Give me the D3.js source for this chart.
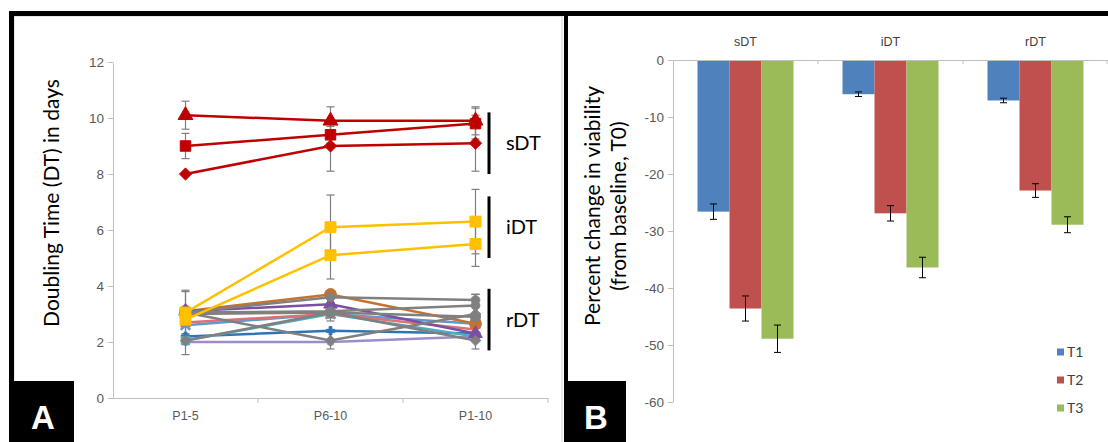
<!DOCTYPE html>
<html>
<head>
<meta charset="utf-8">
<script src="https://cdn.jsdelivr.net/npm/d3@7"></script>
<style>
  body { margin: 0; background: #fff; }
  svg { display: block; font-family: Lato, 'Open Sans', sans-serif; }
</style>
</head>
<body>
<script>
// ---- panel A: doubling time per passage window ----
const passages = ['P1-5', 'P6-10', 'P1-10'];
const dtTicks = [0, 2, 4, 6, 8, 10, 12];

// slow doubling (sDT)
const sdtTri = [10.1, 9.9, 9.9];
const sdtTriErr = [0.5, 0.5, 0.5];
const sdtSq = [9.0, 9.4, 9.8];
const sdtSqErr = [0.45, 0.3, 0.55];
const sdtDia = [8.0, 9.0, 9.1];
const sdtDiaErr = [0.05, 0.9, 1.0];

// intermediate doubling (iDT)
const idtHigh = [3.05, 6.1, 6.3];
const idtHighErr = [0.1, 1.15, 1.15];
const idtLow = [2.8, 5.1, 5.5];
const idtLowErr = [0.1, 0.85, 0.8];

// rapid doubling (rDT)
const rdtOrange = [3.1, 3.7, 2.65];
const rdtPurple = [3.1, 3.35, 2.3];
const rdtBlue = [2.2, 2.4, 2.3];
const rdtLavender = [2.0, 2.0, 2.2];
const rdtTeal = [2.05, 3.0, 2.2];
const rdtPink = [2.7, 3.0, 2.45];
const rdtSky = [2.6, 3.0, 2.65];
const rdtGray1 = [3.05, 3.6, 3.5];
const rdtGray1Err = [0.8, 0.2, 0.2];
const rdtGray2 = [3.05, 3.1, 3.3];
const rdtGray2Err = [0.75, 0.2, 0.4];
const rdtGray3 = [3.05, 2.05, 3.0];
const rdtGray3Err = [0.1, 0.3, 0.7];
const rdtGray4 = [2.05, 3.05, 2.05];
const rdtGray4Err = [0.5, 0.3, 0.3];
const rdtGray5 = [3.0, 3.05, 2.9];
const rdtGray5Err = [0.1, 0.1, 0.1];

// ---- panel B: viability change ----
const groups = ['sDT', 'iDT', 'rDT'];
const timepoints = ['T1', 'T2', 'T3'];
const viabT1 = [-26.6, -6.0, -7.1];
const viabT1Err = [1.35, 0.4, 0.4];
const viabT2 = [-43.6, -26.9, -22.9];
const viabT2Err = [2.2, 1.35, 1.2];
const viabT3 = [-48.9, -36.4, -28.9];
const viabT3Err = [2.4, 1.8, 1.4];
const viabTicks = [0, -10, -20, -30, -40, -50, -60];

const W = 1108, H = 442;
const axisGray = '#bfbfbf';
const tickText = '#595959';

const svg = d3.select('body').append('svg').attr('width', W).attr('height', H);
svg.append('rect').attr('width', W).attr('height', H).attr('fill', '#fff');

function styleAxis(g, size) {
  g.select('.domain').attr('stroke', axisGray);
  g.selectAll('.tick line').attr('stroke', axisGray);
  g.selectAll('.tick text')
    .attr('fill', tickText)
    .style('font-size', size + 'px');
}

function drawLines() {
  const x = d3.scaleBand().domain(passages).range([113, 548]);
  const y = d3.scaleLinear().domain([0, 12]).range([398, 62]);
  const cx = (i) => x(passages[i]) + x.bandwidth() / 2;

  svg.append('rect')
    .attr('x', 14).attr('y', 16).attr('width', 548).attr('height', 430)
    .attr('fill', 'none').attr('stroke', '#d0d0d0');

  const yAxis = svg.append('g')
    .attr('transform', 'translate(113,0)')
    .call(d3.axisLeft(y).tickValues(dtTicks).tickSize(5).tickPadding(4).tickSizeOuter(0));
  styleAxis(yAxis, 13.5);

  const xAxis = svg.append('g')
    .attr('transform', 'translate(0,398)')
    .call(d3.axisBottom(x).tickSize(0).tickPadding(13));
  styleAxis(xAxis, 12.5);

  // Excel style ticks between categories
  const edges = passages.slice(1).map((p) => x(p)).concat([x.range()[1]]);
  svg.append('g').selectAll('line').data(edges).join('line')
    .attr('x1', (d) => d).attr('x2', (d) => d)
    .attr('y1', 398).attr('y2', 403)
    .attr('stroke', axisGray);

  const series = [
    { v: rdtLavender, c: '#9d8cc8', m: d3.symbolCircle, s: 40 },
    { v: rdtBlue, c: '#2e75b6', m: d3.symbolCross, s: 40 },
    { v: rdtTeal, c: '#4bacc6', m: d3.symbolSquare, s: 70 },
    { v: rdtSky, c: '#5b9bd5', m: d3.symbolTimes, s: 60, stroke: true },
    { v: rdtPink, c: '#e07070', m: d3.symbolTimes, s: 60, stroke: true },
    { v: rdtOrange, c: '#c5722f', m: d3.symbolCircle, s: 110 },
    { v: rdtPurple, c: '#7b4fa3', m: d3.symbolTriangle, s: 80 },
    { v: rdtGray5, e: rdtGray5Err, c: '#808080', m: d3.symbolCircle, s: 80 },
    { v: rdtGray3, e: rdtGray3Err, c: '#808080', m: d3.symbolDiamond2, s: 70 },
    { v: rdtGray4, e: rdtGray4Err, c: '#808080', m: d3.symbolDiamond2, s: 70 },
    { v: rdtGray2, e: rdtGray2Err, c: '#808080', m: d3.symbolCircle, s: 60 },
    { v: rdtGray1, e: rdtGray1Err, c: '#808080', m: d3.symbolCircle, s: 60 },
    { v: idtLow, e: idtLowErr, c: '#ffc000', m: d3.symbolSquare, s: 120 },
    { v: idtHigh, e: idtHighErr, c: '#ffc000', m: d3.symbolSquare, s: 120 },
    { v: sdtDia, e: sdtDiaErr, c: '#c00000', m: d3.symbolDiamond2, s: 95 },
    { v: sdtSq, e: sdtSqErr, c: '#c00000', m: d3.symbolSquare, s: 110 },
    { v: sdtTri, e: sdtTriErr, c: '#c00000', m: d3.symbolTriangle, s: 95 },
  ];

  // error bars first so lines sit on top
  const errG = svg.append('g').attr('stroke', '#7f7f7f').attr('stroke-width', 1.2);
  series.filter((s) => s.e).forEach((s) => {
    s.v.forEach((v, i) => {
      if (s.e[i] < 0.15) return;
      const px = cx(i);
      errG.append('line')
        .attr('x1', px).attr('x2', px)
        .attr('y1', y(v - s.e[i])).attr('y2', y(v + s.e[i]));
      [v - s.e[i], v + s.e[i]].forEach((e) => {
        errG.append('line')
          .attr('x1', px - 4).attr('x2', px + 4)
          .attr('y1', y(e)).attr('y2', y(e));
      });
    });
  });

  const line = d3.line().x((d, i) => cx(i)).y((d) => y(d));
  series.forEach((s) => {
    svg.append('path')
      .datum(s.v)
      .attr('d', line)
      .attr('fill', 'none')
      .attr('stroke', s.c)
      .attr('stroke-width', 2.5);
    svg.append('g').selectAll('path').data(s.v).join('path')
      .attr('transform', (d, i) => 'translate(' + cx(i) + ',' + y(d) + ')')
      .attr('d', d3.symbol().type(s.m).size(s.s))
      .attr('fill', s.stroke ? 'none' : s.c)
      .attr('stroke', s.c)
      .attr('stroke-width', s.stroke ? 2.5 : 1);
  });

  svg.append('text')
    .attr('transform', 'translate(59,203) rotate(-90)')
    .attr('text-anchor', 'middle')
    .style('font-size', '21px')
    .attr('fill', '#000')
    .text('Doubling Time (DT) in days');

  // group brackets
  const brackets = [
    { label: 'sDT', lo: 8.0, hi: 10.2 },
    { label: 'iDT', lo: 5.0, hi: 7.2 },
    { label: 'rDT', lo: 1.7, hi: 3.9 },
  ];
  brackets.forEach((b) => {
    svg.append('line')
      .attr('x1', 489).attr('x2', 489)
      .attr('y1', y(b.hi)).attr('y2', y(b.lo))
      .attr('stroke', '#000').attr('stroke-width', 3);
    svg.append('text')
      .attr('x', 506)
      .attr('y', (y(b.hi) + y(b.lo)) / 2)
      .attr('dy', '0.35em')
      .style('font-size', '20px')
      .text(b.label);
  });
}

function drawBars() {
  const x0 = d3.scaleBand().domain(groups).range([673, 1108]);
  const x1 = d3.scaleBand().domain(timepoints).range([0, x0.bandwidth()]).paddingOuter(0.766);
  const y = d3.scaleLinear().domain([-60, 0]).range([402, 60]);
  const colors = { T1: '#4f81bd', T2: '#c0504d', T3: '#9bbb59' };

  const table = groups.map((g, i) => ({
    group: g,
    bars: [
      { t: 'T1', v: viabT1[i], e: viabT1Err[i] },
      { t: 'T2', v: viabT2[i], e: viabT2Err[i] },
      { t: 'T3', v: viabT3[i], e: viabT3Err[i] },
    ],
  }));

  const grp = svg.append('g').selectAll('g').data(table).join('g')
    .attr('transform', (d) => 'translate(' + x0(d.group) + ',0)');

  grp.selectAll('rect').data((d) => d.bars).join('rect')
    .attr('x', (d) => x1(d.t))
    .attr('y', y(0))
    .attr('width', x1.bandwidth())
    .attr('height', (d) => y(d.v) - y(0))
    .attr('fill', (d) => colors[d.t]);

  const eb = grp.selectAll('g.err').data((d) => d.bars).join('g')
    .attr('class', 'err')
    .attr('stroke', '#000')
    .attr('stroke-width', 1);
  eb.append('line')
    .attr('x1', (d) => x1(d.t) + x1.bandwidth() / 2)
    .attr('x2', (d) => x1(d.t) + x1.bandwidth() / 2)
    .attr('y1', (d) => y(d.v + d.e))
    .attr('y2', (d) => y(d.v - d.e));
  [1, -1].forEach((sgn) => {
    eb.append('line')
      .attr('x1', (d) => x1(d.t) + x1.bandwidth() / 2 - 3.5)
      .attr('x2', (d) => x1(d.t) + x1.bandwidth() / 2 + 3.5)
      .attr('y1', (d) => y(d.v + sgn * d.e))
      .attr('y2', (d) => y(d.v + sgn * d.e));
  });

  const yAxis = svg.append('g')
    .attr('transform', 'translate(673,0)')
    .call(d3.axisLeft(y).tickValues(viabTicks).tickSize(5).tickPadding(4)
      .tickSizeOuter(0).tickFormat((d) => String(d)));
  styleAxis(yAxis, 13.5);

  const xAxis = svg.append('g')
    .attr('transform', 'translate(0,60)')
    .call(d3.axisTop(x0).tickSize(0).tickPadding(14));
  styleAxis(xAxis, 12.5);
  xAxis.selectAll('.tick text').attr('fill', '#404040');

  const edges = groups.slice(1).map((g) => x0(g)).concat([x0.range()[1] - 1]);
  svg.append('g').selectAll('line').data(edges).join('line')
    .attr('x1', (d) => d).attr('x2', (d) => d)
    .attr('y1', 60).attr('y2', 64)
    .attr('stroke', axisGray);

  const title = svg.append('text')
    .attr('transform', 'translate(600,206) rotate(-90)')
    .attr('text-anchor', 'middle')
    .style('font-size', '21px');
  title.append('tspan').attr('x', 0).attr('dy', 0).text('Percent change in viability');
  title.append('tspan').attr('x', 0).attr('dy', 26).text('(from baseline, T0)');

  const legend = svg.append('g').selectAll('g').data(timepoints).join('g')
    .attr('transform', (d, i) => 'translate(1057,' + (352 + i * 28) + ')');
  legend.append('rect')
    .attr('x', 0).attr('y', -3.5).attr('width', 7).attr('height', 7)
    .attr('fill', (d) => colors[d]);
  legend.append('text')
    .attr('x', 10).attr('dy', '0.36em')
    .style('font-size', '14px')
    .attr('fill', '#404040')
    .text((d) => d);
}

drawLines();
drawBars();

// frame and panel letters
svg.append('rect').attr('x', 9).attr('y', 11).attr('width', W - 9).attr('height', 5).attr('fill', '#000');
svg.append('rect').attr('x', 9).attr('y', 11).attr('width', 5).attr('height', H - 11).attr('fill', '#000');
svg.append('rect').attr('x', 564).attr('y', 11).attr('width', 4).attr('height', H - 11).attr('fill', '#000');

const panels = [
  { label: 'A', x: 12, w: 62 },
  { label: 'B', x: 566, w: 60 },
];
panels.forEach((p) => {
  svg.append('rect').attr('x', p.x).attr('y', 381).attr('width', p.w).attr('height', H - 381).attr('fill', '#000');
  svg.append('text')
    .attr('x', p.x + p.w / 2).attr('y', 429)
    .attr('text-anchor', 'middle')
    .attr('fill', '#fff')
    .style('font-size', '33px')
    .style('font-weight', 'bold')
    .style('font-family', "'Liberation Sans', Arial, sans-serif")
    .text(p.label);
});
</script>
</body>
</html>
